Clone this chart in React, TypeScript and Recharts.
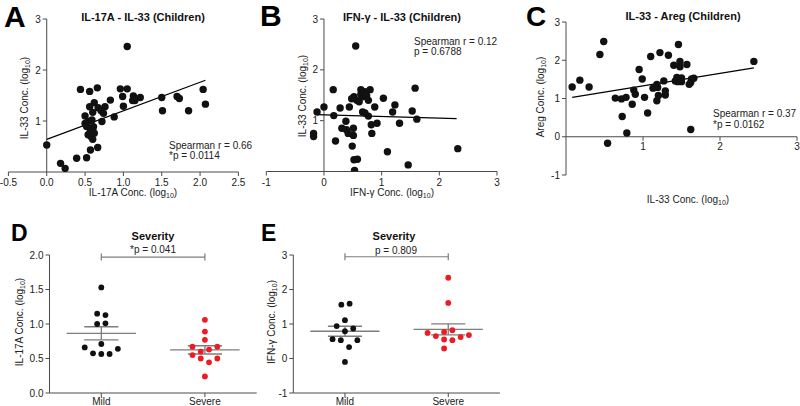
import React from 'react';
import { ScatterChart, Scatter, XAxis, YAxis, ReferenceLine } from 'recharts';

const FONT = '"Liberation Sans", Arial, Helvetica, sans-serif';
const AXIS = '#4a4a4a';
const TXT = '#222';
const DOT = '#111';
const RED = '#ec1c24';
const GREY = '#7d7d7d';

// ---------- Panel A : IL-17A vs IL-33 ----------
const aIL17A = [0.0, 0.18, 0.24, 0.39, 0.52, 0.57, 0.665, 0.44, 0.56, 0.66, 0.62, 0.56, 0.6, 0.5, 0.67, 0.71, 0.76, 0.83, 0.74, 0.72, 0.88, 0.5, 0.54, 0.59, 0.52, 0.61, 0.54, 0.57, 0.6, 0.58, 0.6, 0.62, 1.05, 0.96, 1.05, 0.99, 1.0, 1.13, 1.12, 1.15, 1.22, 1.5, 1.51, 1.7, 1.73, 1.85, 2.04, 2.07];
const aIL33 = [0.53, 0.17, 0.07, 0.27, 0.28, 0.43, 0.48, 1.62, 1.58, 1.65, 1.36, 1.28, 1.17, 1.1, 1.26, 1.2, 1.28, 1.41, 1.15, 0.99, 1.08, 0.95, 0.99, 1.02, 0.89, 0.89, 0.73, 0.79, 0.84, 0.69, 0.64, 0.76, 2.46, 1.63, 1.63, 1.48, 1.29, 1.49, 1.4, 1.4, 1.46, 1.46, 1.2, 1.48, 1.44, 1.2, 1.62, 1.33];
const aFitX = [0, 2.07];
const aFitY = [0.64, 1.8];
const aXTicks = [-0.5, 0, 0.5, 1, 1.5, 2, 2.5];
const aYTicks = [1, 2, 3];

// ---------- Panel B : IFN-γ vs IL-33 ----------
const bIFNg = [0.55, 0.16, -0.12, 0.0, 0.17, 0.28, 0.44, 0.38, 0.31, 0.39, 0.42, 0.51, 0.51, 0.49, 0.2, -0.18, -0.18, 0.52, 0.58, 0.53, 0.48, 0.52, 0.57, 0.64, 0.71, 0.8, 0.74, 0.67, 0.61, 0.77, 0.67, 0.71, 0.77, 0.82, 0.83, 0.88, 0.92, 1.03, 1.1, 1.19, 1.23, 1.31, 1.46, 1.53, 1.58, 1.61, 2.32, 0.64];
const bIL33 = [2.47, 1.61, 1.17, 1.27, 1.1, 1.25, 1.27, 0.99, 0.85, 0.82, 0.75, 0.85, 0.71, 0.5, 0.6, 0.75, 0.69, 0.23, 0.24, 0.02, 1.43, 1.47, 1.4, 1.61, 1.57, 1.61, 1.49, 1.47, 1.37, 1.4, 1.17, 1.15, 1.09, 0.92, 0.75, 1.27, 0.95, 1.44, 0.39, 1.17, 1.31, 0.95, 0.13, 1.19, 1.64, 1.03, 0.45, 1.52];
const bFitX = [-0.12, 2.3];
const bFitY = [1.12, 1.04];
const bXTicks = [-1, 0, 1, 2, 3];
const bYTicks = [1, 2, 3];

// ---------- Panel C : IL-33 vs Areg ----------
const cIL33 = [0.08, 0.18, 0.3, 0.44, 0.49, 0.54, 0.64, 0.72, 0.78, 0.73, 0.79, 0.86, 0.88, 0.9, 0.95, 0.99, 1.02, 1.06, 1.1, 1.13, 1.18, 1.19, 1.2, 1.18, 1.22, 1.27, 1.29, 1.29, 1.33, 1.4, 1.42, 1.44, 1.46, 1.48, 1.48, 1.5, 1.5, 1.57, 1.62, 1.62, 1.63, 1.66, 2.44, 1.45, 1.6];
const cAreg = [1.3, 1.48, 1.3, 2.15, 2.49, -0.17, 1.01, 0.99, 1.03, 0.53, 0.1, 0.85, 1.22, 1.11, 1.76, 1.51, 1.03, 0.62, 2.1, 1.27, 1.37, 1.29, 1.08, 0.94, 2.2, 1.46, 1.2, 1.09, 2.13, 1.87, 1.46, 1.55, 2.41, 1.97, 1.83, 1.54, 1.44, 1.89, 0.19, 1.42, 1.51, 1.53, 1.97, 1.44, 1.37];
const cFitX = [0.08, 2.44];
const cFitY = [1.03, 1.8];
const cXTicks = [1, 2, 3];
const cYTicks = [-1, 0, 1, 2, 3];

// ---------- Panels D / E : Severity ----------
const groups = ['Mild', 'Severe'];

const dMild = [1.53, 1.15, 1.13, 1.0, 1.01, 0.71, 0.66, 0.64, 0.575, 0.565, 0.565];
const dMildJitter = [0, -0.04, 0.04, -0.04, 0.04, 0, -0.16, 0.16, -0.08, 0, 0.08];
const dSevere = [1.06, 0.89, 0.77, 0.67, 0.67, 0.6, 0.63, 0.55, 0.5, 0.5, 0.445, 0.24];
const dSevereJitter = [0, 0, 0, -0.12, 0.12, -0.04, 0.04, -0.12, 0.12, -0.04, 0.04, 0];
const dMeans = [0.865, 0.625];
const dSEM = [0.095, 0.06];
const dPText = '*p = 0.041';
const dBracketY = 1.97;
const dYTicks = [0, 0.5, 1, 1.5, 2];

const eMild = [1.56, 1.59, 1.11, 0.94, 0.87, 0.79, 0.56, 0.53, 0.53, 0.33, -0.1];
const eMildJitter = [-0.035, 0.045, 0, -0.08, 0.08, 0, -0.12, -0.04, 0.12, 0.04, 0];
const eSevere = [2.34, 1.61, 0.74, 0.65, 0.77, 0.82, 0.55, 0.53, 0.62, 0.68, 0.29];
const eSevereJitter = [0, 0, -0.2, -0.12, -0.04, 0.04, -0.04, 0.04, 0.12, 0.2, -0.04];
const eMeans = [0.79, 0.845];
const eSEM = [0.145, 0.16];
const ePText = 'p = 0.809';
const eBracketY = 2.95;
const eYTicks = [-1, 0, 1, 2, 3];

// ---------- helpers ----------
const zip = (xs: number[], ys: number[]) => xs.map((x, i) => ({ x, y: ys[i] }));
const groupPts = (vals: number[], jit: number[], g: number) => vals.map((v, i) => ({ x: g + jit[i], y: v }));

const bigDot = (p: any) => <circle cx={p.cx} cy={p.cy} r={3.7} fill={DOT} />;
const smallBlack = (p: any) => <circle cx={p.cx} cy={p.cy} r={2.9} fill={DOT} />;
const smallRed = (p: any) => <circle cx={p.cx} cy={p.cy} r={2.9} fill={RED} />;

const tickStyle = { fill: TXT, fontSize: 10, fontFamily: FONT };

// y-axis ticks drawn at a crossing x position (axis located at x = 0)
const yTickAt = (axisX: number) => (props: any) => {
  const { y, payload } = props;
  return (
    <g>
      <line x1={axisX - 4} x2={axisX} y1={y} y2={y} stroke={AXIS} />
      <text x={axisX - 6} y={y} dy="0.35em" textAnchor="end" {...tickStyle}>{String(payload.value)}</text>
    </g>
  );
};
// x-axis ticks drawn at a crossing y position (axis located at y = 0)
const xTickAt = (axisY: number) => (props: any) => {
  const { x, payload } = props;
  return (
    <g>
      <line x1={x} x2={x} y1={axisY} y2={axisY + 4} stroke={AXIS} />
      <text x={x} y={axisY + 6} dy="0.71em" textAnchor="middle" {...tickStyle}>{String(payload.value)}</text>
    </g>
  );
};

const Txt = ({ x, y, size = 10, bold = false, align = 'center', rotate = false, color = TXT, children }: any) => {
  const tx = align === 'center' ? '-50%' : align === 'left' ? '0' : '-100%';
  return (
    <div
      style={{
        position: 'absolute', left: x, top: y, whiteSpace: 'nowrap', lineHeight: 1,
        fontFamily: FONT, fontSize: size, fontWeight: bold ? 700 : 400, color,
        transform: `translate(${tx}, -50%)${rotate ? ' rotate(-90deg)' : ''}`,
      }}
    >
      {children}
    </div>
  );
};
const Letter = ({ x, y, size, children }: any) => (
  <div style={{ position: 'absolute', left: x, top: y, fontFamily: FONT, fontWeight: 700, fontSize: size, lineHeight: 1, color: '#000' }}>{children}</div>
);
const Log = () => (
  <span>(log<span style={{ fontSize: '0.7em', position: 'relative', top: '0.3em' }}>10</span>)</span>
);

const fitSeg = (xs: number[], ys: number[]) => [{ x: xs[0], y: ys[0] }, { x: xs[1], y: ys[1] }];

const groupMarks = (means: number[], sems: number[], capDY: number, bracketY: number) => {
  const out: any[] = [];
  means.forEach((m, i) => {
    const g = i + 1;
    out.push(<ReferenceLine key={`m${i}`} segment={[{ x: g - 0.335, y: m }, { x: g + 0.335, y: m }]} stroke={GREY} strokeWidth={1.3} ifOverflow="visible" />);
    out.push(<ReferenceLine key={`t${i}`} segment={[{ x: g - 0.165, y: m + sems[i] }, { x: g + 0.165, y: m + sems[i] }]} stroke={GREY} strokeWidth={1.3} ifOverflow="visible" />);
    out.push(<ReferenceLine key={`b${i}`} segment={[{ x: g - 0.165, y: m - sems[i] }, { x: g + 0.165, y: m - sems[i] }]} stroke={GREY} strokeWidth={1.3} ifOverflow="visible" />);
    out.push(<ReferenceLine key={`v${i}`} segment={[{ x: g, y: m - sems[i] }, { x: g, y: m + sems[i] }]} stroke={GREY} strokeWidth={1.3} ifOverflow="visible" />);
  });
  out.push(<ReferenceLine key="br" segment={[{ x: 1, y: bracketY }, { x: 2, y: bracketY }]} stroke={GREY} strokeWidth={1.2} ifOverflow="visible" />);
  out.push(<ReferenceLine key="brl" segment={[{ x: 1, y: bracketY - capDY }, { x: 1, y: bracketY + capDY }]} stroke={GREY} strokeWidth={1.2} ifOverflow="visible" />);
  out.push(<ReferenceLine key="brr" segment={[{ x: 2, y: bracketY - capDY }, { x: 2, y: bracketY + capDY }]} stroke={GREY} strokeWidth={1.2} ifOverflow="visible" />);
  return out;
};

export default function App() {
  const aData = zip(aIL17A, aIL33);
  const bData = zip(bIFNg, bIL33);
  const cData = zip(cIL33, cAreg);

  return (
    <div style={{ position: 'absolute', left: 0, top: 0, width: 800, height: 406, background: '#fff', overflow: 'hidden' }}>
      {/* Panel A */}
      <div style={{ position: 'absolute', left: 0, top: 0 }}>
        <ScatterChart width={260} height={210} margin={{ top: 19, right: 21.6, bottom: 8, left: 6.4 }}>
          <XAxis type="number" dataKey="x" domain={[-0.5, 2.5]} ticks={aXTicks} interval={0} tickFormatter={(v: number) => v.toFixed(1)} height={30} stroke={AXIS} tickSize={4} tickMargin={3} tick={tickStyle} allowDataOverflow />
          <YAxis type="number" dataKey="y" domain={[0, 3]} ticks={aYTicks} interval={0} width={2} axisLine={false} tickLine={false} tick={yTickAt(8.4 + 230 * (0.5 / 3))} allowDataOverflow />
          <ReferenceLine segment={[{ x: 0, y: 0 }, { x: 0, y: 3 }]} stroke={AXIS} ifOverflow="visible" />
          <Scatter data={aData} shape={bigDot} isAnimationActive={false} />
          <ReferenceLine segment={fitSeg(aFitX, aFitY)} stroke="#000" strokeWidth={1.2} ifOverflow="visible" />
        </ScatterChart>
      </div>

      {/* Panel B */}
      <div style={{ position: 'absolute', left: 260, top: 0 }}>
        <ScatterChart width={250} height={210} margin={{ top: 19, right: 13, bottom: 8.5, left: 4.3 }}>
          <XAxis type="number" dataKey="x" domain={[-1, 3]} ticks={bXTicks} interval={0} height={30} stroke={AXIS} tickSize={4} tickMargin={3} tick={tickStyle} allowDataOverflow />
          <YAxis type="number" dataKey="y" domain={[0, 3]} ticks={bYTicks} interval={0} width={2} axisLine={false} tickLine={false} tick={yTickAt(6.3 + 230.7 * 0.25)} allowDataOverflow />
          <ReferenceLine segment={[{ x: 0, y: 0 }, { x: 0, y: 3 }]} stroke={AXIS} ifOverflow="visible" />
          <Scatter data={bData} shape={bigDot} isAnimationActive={false} />
          <ReferenceLine segment={fitSeg(bFitX, bFitY)} stroke="#000" strokeWidth={1.2} ifOverflow="visible" />
        </ScatterChart>
      </div>

      {/* Panel C */}
      <div style={{ position: 'absolute', left: 520, top: 0 }}>
        <ScatterChart width={280} height={210} margin={{ top: 22, right: 3, bottom: 33, left: 0 }}>
          <XAxis type="number" dataKey="x" domain={[0, 3]} ticks={cXTicks} interval={0} height={2} axisLine={false} tickLine={false} tick={xTickAt(22 + 153 * 0.75)} allowDataOverflow />
          <YAxis type="number" dataKey="y" domain={[-1, 3]} ticks={cYTicks} interval={0} width={46} stroke={AXIS} tickSize={4} tickMargin={2} tick={tickStyle} allowDataOverflow />
          <ReferenceLine segment={[{ x: 0, y: 0 }, { x: 3, y: 0 }]} stroke={AXIS} ifOverflow="visible" />
          <Scatter data={cData} shape={bigDot} isAnimationActive={false} />
          <ReferenceLine segment={fitSeg(cFitX, cFitY)} stroke="#000" strokeWidth={1.2} ifOverflow="visible" />
        </ScatterChart>
      </div>

      {/* Panel D */}
      <div style={{ position: 'absolute', left: 0, top: 210 }}>
        <ScatterChart width={270} height={196} margin={{ top: 45, right: 13.3, bottom: 0, left: 0 }}>
          <XAxis type="number" dataKey="x" domain={[0.5, 2.5]} ticks={[1, 2]} interval={0} tickFormatter={(v: number) => groups[v - 1]} height={13} stroke={AXIS} tickSize={4} tickMargin={1} tick={tickStyle} allowDataOverflow />
          <YAxis type="number" dataKey="y" domain={[0, 2]} ticks={dYTicks} interval={0} tickFormatter={(v: number) => v.toFixed(1)} width={49.5} stroke={AXIS} tickSize={4} tickMargin={2} tick={tickStyle} allowDataOverflow />
          {groupMarks(dMeans, dSEM, 0.05, dBracketY)}
          <Scatter data={groupPts(dMild, dMildJitter, 1)} shape={smallBlack} isAnimationActive={false} />
          <Scatter data={groupPts(dSevere, dSevereJitter, 2)} shape={smallRed} isAnimationActive={false} />
        </ScatterChart>
      </div>

      {/* Panel E */}
      <div style={{ position: 'absolute', left: 270, top: 210 }}>
        <ScatterChart width={240} height={196} margin={{ top: 45, right: 10.1, bottom: 0, left: 0 }}>
          <XAxis type="number" dataKey="x" domain={[0.5, 2.5]} ticks={[1, 2]} interval={0} tickFormatter={(v: number) => groups[v - 1]} height={13} stroke={AXIS} tickSize={4} tickMargin={1} tick={tickStyle} allowDataOverflow />
          <YAxis type="number" dataKey="y" domain={[-1, 3]} ticks={eYTicks} interval={0} width={23.3} stroke={AXIS} tickSize={4} tickMargin={2} tick={tickStyle} allowDataOverflow />
          {groupMarks(eMeans, eSEM, 0.1, eBracketY)}
          <Scatter data={groupPts(eMild, eMildJitter, 1)} shape={smallBlack} isAnimationActive={false} />
          <Scatter data={groupPts(eSevere, eSevereJitter, 2)} shape={smallRed} isAnimationActive={false} />
        </ScatterChart>
      </div>

      {/* Panel letters */}
      <Letter x={4} y={2} size={30}>A</Letter>
      <Letter x={260} y={1} size={30}>B</Letter>
      <Letter x={526} y={3} size={28}>C</Letter>
      <Letter x={11} y={222} size={23}>D</Letter>
      <Letter x={261} y={222} size={23}>E</Letter>

      {/* Titles */}
      <Txt x={143} y={17} size={11} bold color="#111">IL-17A - IL-33 (Children)</Txt>
      <Txt x={402} y={17} size={11} bold color="#111">IFN-γ - IL-33 (Children)</Txt>
      <Txt x={683} y={16} size={11} bold color="#111">IL-33 - Areg (Children)</Txt>
      <Txt x={153} y={236} size={11} bold color="#111">Severity</Txt>
      <Txt x={394} y={236} size={11} bold color="#111">Severity</Txt>

      {/* Axis titles */}
      <Txt x={133} y={193}>IL-17A Conc. <Log /></Txt>
      <Txt x={392} y={193}>IFN-γ Conc. <Log /></Txt>
      <Txt x={688} y={200}>IL-33 Conc. <Log /></Txt>
      <Txt x={25} y={98} rotate>IL-33 Conc. <Log /></Txt>
      <Txt x={303} y={96} rotate>IL-33 Conc. <Log /></Txt>
      <Txt x={541} y={97} rotate>Areg Conc. <Log /></Txt>
      <Txt x={20} y={322} rotate>IL-17A Conc. <Log /></Txt>
      <Txt x={272} y={322} rotate>IFN-γ Conc. <Log /></Txt>

      {/* Statistics */}
      <Txt x={169} y={146} align="left">Spearman r = 0.66</Txt>
      <Txt x={169} y={156} align="left">*p = 0.0114</Txt>
      <Txt x={414} y={42} align="left">Spearman r = 0.12</Txt>
      <Txt x={414} y={52} align="left">p = 0.6788</Txt>
      <Txt x={713} y={114} align="left">Spearman r = 0.37</Txt>
      <Txt x={713} y={125} align="left">*p = 0.0162</Txt>
      <Txt x={153} y={250} >{dPText}</Txt>
      <Txt x={396} y={251} >{ePText}</Txt>
    </div>
  );
}
